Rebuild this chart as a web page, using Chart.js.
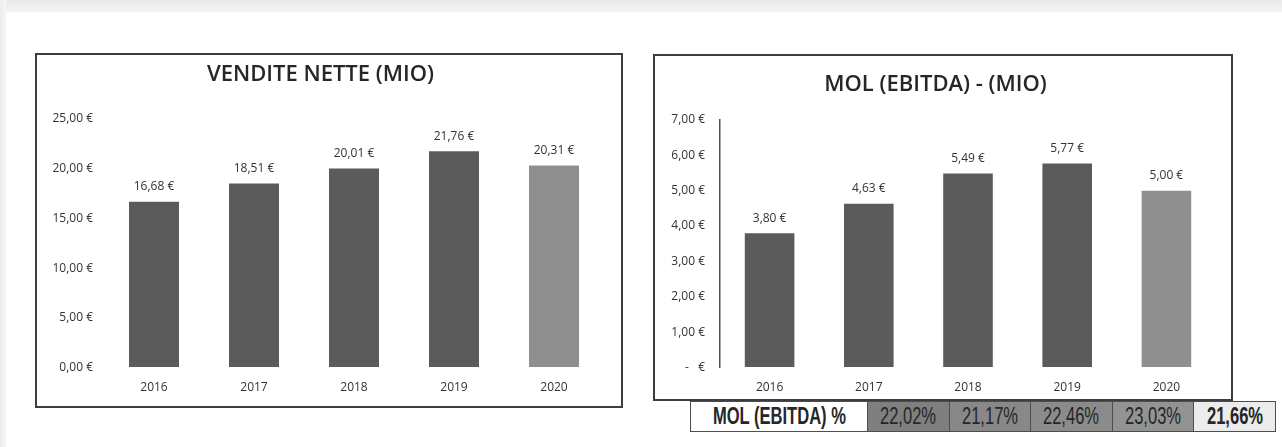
<!DOCTYPE html>
<html>
<head>
<meta charset="utf-8">
<script src="https://cdn.jsdelivr.net/npm/chart.js@4"></script>
<style>
  html, body { margin: 0; padding: 0; background: #fff; }
  body { width: 1282px; height: 447px; position: relative; overflow: hidden; font-family: "Open Sans", sans-serif; }
  .band-top { position: absolute; left: 0; top: 0; width: 1282px; height: 12px; background: linear-gradient(#e9e9e9, #f4f4f4); }
  .band-left { position: absolute; left: 0; top: 0; width: 6px; height: 447px; background: linear-gradient(90deg, #ececec, #f6f6f6); }
  .frame { position: absolute; box-sizing: border-box; border: 2px solid #3d3d3d; background: #fff; }
  #frameSales { left: 35px; top: 53px; width: 588px; height: 355px; }
  #frameMol { left: 653px; top: 54px; width: 580px; height: 347px; }
  .box { position: absolute; left: 0; top: 0; }
  #boxSales { width: 584px; height: 351px; }
  #boxMol { width: 576px; height: 343px; }
  #molTable { position: absolute; left: 690px; top: 401px; width: 579px; border-collapse: collapse; table-layout: fixed; }
  #molTable td { border: 1.5px solid #4d4d4d; height: 29px; padding: 0; text-align: center; overflow: hidden; white-space: nowrap;
                 font-family: "Liberation Sans", Arimo, Arial, sans-serif; font-size: 23px; color: #262626; line-height: 29px; }
  #molTable td span { display: inline-block; margin: 0 -40px; transform: scaleX(0.72); transform-origin: center; }
</style>
</head>
<body>
<div class="band-top"></div>
<div class="band-left"></div>

<div class="frame" id="frameSales"><div class="box" id="boxSales"><canvas id="sales"></canvas></div></div>
<div class="frame" id="frameMol"><div class="box" id="boxMol"><canvas id="mol"></canvas></div></div>
<table id="molTable"><tr id="molRow"></tr></table>

<script>
// Years shown on both charts
const years = ['2016', '2017', '2018', '2019', '2020'];
// Net sales, millions of euro
const salesValues = [16.68, 18.51, 20.01, 21.76, 20.31];
// EBITDA, millions of euro
const molValues = [3.80, 4.63, 5.49, 5.77, 5.00];
// EBITDA margin, percent
const molPercent = [22.02, 21.17, 22.46, 23.03, 21.66];

const salesTitle = 'VENDITE NETTE (MIO)';
const molTitle = 'MOL (EBITDA) - (MIO)';
const tableLabel = 'MOL (EBITDA) %';

// Colours
const barColors = ['#5b5b5b', '#5b5b5b', '#5b5b5b', '#5b5b5b', '#8f8f8f'];
const cellColors = ['#7f7f7f', '#888888', '#8b8b8b', '#939393', '#ececec'];
const cellWeights = ['normal', 'normal', 'normal', 'normal', 'bold'];

const textColor = '#333333';
const fontFamily = '"Open Sans", sans-serif';

function euro(v) {
  return v.toFixed(2).replace('.', ',') + ' €';
}

// Writes each bar's value just above it
const valueLabels = {
  id: 'valueLabels',
  afterDatasetsDraw(chart) {
    const ctx = chart.ctx;
    const ds = chart.data.datasets[0];
    const meta = chart.getDatasetMeta(0);
    ctx.save();
    ctx.font = '12px ' + fontFamily;
    ctx.fillStyle = textColor;
    ctx.textAlign = 'center';
    ctx.textBaseline = 'middle';
    meta.data.forEach((bar, i) => {
      ctx.fillText(euro(ds.data[i]), bar.x, bar.y - 15);
    });
    ctx.restore();
  }
};

function makeChart(id, cfg) {
  return new Chart(document.getElementById(id), {
    type: 'bar',
    data: {
      labels: years,
      datasets: [{
        data: cfg.values,
        backgroundColor: barColors,
        borderWidth: 0,
        categoryPercentage: 1.0,
        barPercentage: 0.5
      }]
    },
    plugins: [valueLabels],
    options: {
      responsive: true,
      maintainAspectRatio: false,
      animation: false,
      layout: { padding: { left: 0, right: cfg.padRight, top: 0, bottom: 0 } },
      plugins: {
        legend: { display: false },
        tooltip: { enabled: false },
        title: {
          display: true,
          text: cfg.title,
          color: '#262626',
          font: { family: fontFamily, size: 22, weight: '600', lineHeight: 1.2 },
          padding: { top: cfg.titleTop, bottom: cfg.titleBottom }
        }
      },
      scales: {
        x: {
          grid: { display: false, drawTicks: false },
          border: { display: false },
          ticks: { color: textColor, font: { family: fontFamily, size: 12 }, padding: 13.3 },
          afterFit(scale) { scale.height = cfg.xHeight; }
        },
        y: {
          min: 0,
          max: cfg.max,
          grid: { display: true, color: 'transparent', drawTicks: false },
          border: { display: cfg.axisLine, color: '#505050', width: 1.5 },
          ticks: {
            stepSize: cfg.step,
            color: textColor,
            font: { family: fontFamily, size: 12 },
            padding: cfg.tickPad,
            callback: cfg.tickFormat
          },
          afterFit(scale) { scale.width = cfg.yWidth; }
        }
      }
    }
  });
}

makeChart('sales', {
  values: salesValues,
  title: salesTitle,
  max: 25, step: 5,
  padRight: 17,
  titleTop: 6.8, titleBottom: 30.8,
  xHeight: 38.5,
  yWidth: 67,
  tickPad: 11,
  axisLine: false,
  tickFormat: (v) => euro(v)
});

makeChart('mol', {
  values: molValues,
  title: molTitle,
  max: 7, step: 1,
  padRight: 15,
  titleTop: 15.8, titleBottom: 21.8,
  xHeight: 31.5,
  yWidth: 65,
  tickPad: 15,
  axisLine: true,
  tickFormat: (v) => (v === 0 ? '-   €' : euro(v))
});

// Margin table under the EBITDA chart
const row = document.getElementById('molRow');
const labelCell = document.createElement('td');
labelCell.style.width = '176px';
labelCell.style.background = '#ffffff';
labelCell.style.fontWeight = 'bold';
labelCell.innerHTML = '<span></span>';
labelCell.firstChild.textContent = tableLabel;
row.appendChild(labelCell);
molPercent.forEach((p, i) => {
  const td = document.createElement('td');
  td.style.width = '80.6px';
  td.style.background = cellColors[i];
  td.style.fontWeight = cellWeights[i];
  td.innerHTML = '<span></span>';
  td.firstChild.textContent = p.toFixed(2).replace('.', ',') + '%';
  row.appendChild(td);
});
</script>
</body>
</html>
